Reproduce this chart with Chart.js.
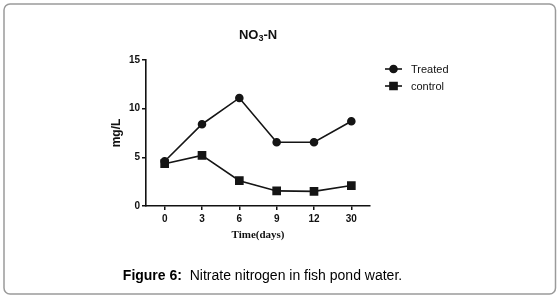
<!DOCTYPE html>
<html>
<head>
<meta charset="utf-8">
<script src="https://cdn.jsdelivr.net/npm/chart.js@4/dist/chart.umd.min.js"></script>
<style>
html,body{margin:0;padding:0;background:#fff;}
canvas{display:block;}
</style>
</head>
<body>
<canvas id="c" width="559" height="298"></canvas>
<script>
const categories = ['0', '3', '6', '9', '12', '30'];
const treated = [4.6, 8.4, 11.1, 6.55, 6.55, 8.7];
const control = [4.35, 5.2, 2.6, 1.55, 1.5, 2.1];
const seriesNames = ['Treated', 'control'];
const yTicks = [0, 5, 10, 15];
const chartTitle = ['NO', '3', '-N'];
const xTitle = 'Time(days)';
const yTitle = 'mg/L';
const captionBold = 'Figure 6:';
const captionText = '  Nitrate nitrogen in fish pond water.';

const SANS = '"Liberation Sans", Arial, sans-serif';
const SERIF = '"Liberation Serif", "Times New Roman", serif';

const decor = {
  id: 'decor',
  beforeDraw(chart) {
    const c = chart.ctx;
    c.save();
    c.fillStyle = '#fff';
    c.fillRect(0, 0, chart.width, chart.height);
    c.strokeStyle = '#9a9a9a';
    c.lineWidth = 1.5;
    const x0 = 4, y0 = 4, x1 = 555.5, y1 = 294, r = 6;
    c.beginPath();
    c.moveTo(x0 + r, y0);
    c.lineTo(x1 - r, y0);
    c.arcTo(x1, y0, x1, y0 + r, r);
    c.lineTo(x1, y1 - r);
    c.arcTo(x1, y1, x1 - r, y1, r);
    c.lineTo(x0 + r, y1);
    c.arcTo(x0, y1, x0, y1 - r, r);
    c.lineTo(x0, y0 + r);
    c.arcTo(x0, y0, x0 + r, y0, r);
    c.closePath();
    c.stroke();
    c.restore();
  },
  afterDraw(chart) {
    const c = chart.ctx;
    const a = chart.chartArea;
    c.save();
    c.fillStyle = '#111';
    c.textBaseline = 'middle';
    const big = 'bold 13px ' + SANS, small = 'bold 9px ' + SANS;
    c.font = big; const w1 = c.measureText(chartTitle[0]).width;
    c.font = small; const w2 = c.measureText(chartTitle[1]).width;
    c.font = big; const w3 = c.measureText(chartTitle[2]).width;
    let tx = 258 - (w1 + w2 + w3) / 2;
    const ty = 35;
    c.textAlign = 'left';
    c.font = big; c.fillText(chartTitle[0], tx, ty); tx += w1;
    c.font = small; c.fillText(chartTitle[1], tx, ty + 4); tx += w2;
    c.font = big; c.fillText(chartTitle[2], tx, ty);
    c.save();
    c.translate(117, (a.top + a.bottom) / 2);
    c.rotate(-Math.PI / 2);
    c.textAlign = 'center';
    c.font = 'bold 12px ' + SANS;
    c.fillText(yTitle, 0, 0);
    c.restore();
    c.textAlign = 'center';
    c.font = 'bold 11px ' + SERIF;
    c.fillText(xTitle, 258, 235);
    const ds = chart.data.datasets;
    const ly = [69, 86];
    ds.forEach((d, i) => {
      c.strokeStyle = d.borderColor;
      c.lineWidth = d.borderWidth;
      c.beginPath();
      c.moveTo(385, ly[i]);
      c.lineTo(402, ly[i]);
      c.stroke();
      Chart.helpers.drawPoint(c, {pointStyle: d.pointStyle, radius: d.pointRadius, borderWidth: 1}, 393.5, ly[i]);
      c.fillStyle = d.pointBackgroundColor;
      c.fill();
      c.fillStyle = '#111';
      c.textAlign = 'left';
      c.font = '11px ' + SANS;
      c.fillText(d.label, 411, ly[i] + 0.5);
    });
    c.font = 'bold 14px ' + SANS;
    const cb = c.measureText(captionBold).width;
    c.font = '14px ' + SANS;
    const ct = c.measureText(captionText).width;
    let cx = 262.5 - (cb + ct) / 2;
    c.fillStyle = '#000';
    c.textAlign = 'left';
    c.font = 'bold 14px ' + SANS; c.fillText(captionBold, cx, 276);
    c.font = '14px ' + SANS; c.fillText(captionText, cx + cb, 276);
    c.restore();
  }
};

new Chart(document.getElementById('c'), {
  type: 'line',
  data: {
    labels: categories,
    datasets: [
      {
        label: seriesNames[0], data: treated,
        borderColor: '#151515', backgroundColor: '#151515', pointBackgroundColor: '#151515',
        pointBorderColor: '#151515', borderWidth: 1.6, pointStyle: 'circle', pointRadius: 3.5, tension: 0
      },
      {
        label: seriesNames[1], data: control,
        borderColor: '#151515', backgroundColor: '#151515', pointBackgroundColor: '#151515',
        pointBorderColor: '#151515', borderWidth: 1.6, pointStyle: 'rect', pointRadius: 5, tension: 0
      }
    ]
  },
  options: {
    responsive: false,
    animation: false,
    devicePixelRatio: 1,
    layout: { padding: { left: 100, right: 189, top: 60, bottom: 62 } },
    plugins: { legend: { display: false }, title: { display: false }, tooltip: { enabled: false } },
    scales: {
      x: {
        type: 'category',
        offset: true,
        grid: { display: true, drawOnChartArea: false, drawTicks: true, tickLength: 4, color: '#111', lineWidth: 1.5 },
        border: { display: true, color: '#111', width: 1.6 },
        ticks: { color: '#111', font: { family: SANS, weight: 'bold', size: 10 }, padding: 3, maxRotation: 0, autoSkip: false },
        afterFit(s) { s.height = 30; }
      },
      y: {
        min: 0, max: 15,
        afterBuildTicks(s) { s.ticks = yTicks.map(v => ({ value: v })); },
        grid: { display: true, drawOnChartArea: false, drawTicks: true, tickLength: 4, color: '#111', lineWidth: 1.5 },
        border: { display: true, color: '#111', width: 1.6 },
        ticks: { color: '#111', font: { family: SANS, weight: 'bold', size: 10 }, padding: 2 },
        afterFit(s) { s.width = 46; }
      }
    }
  },
  plugins: [decor]
});
</script>
</body>
</html>
